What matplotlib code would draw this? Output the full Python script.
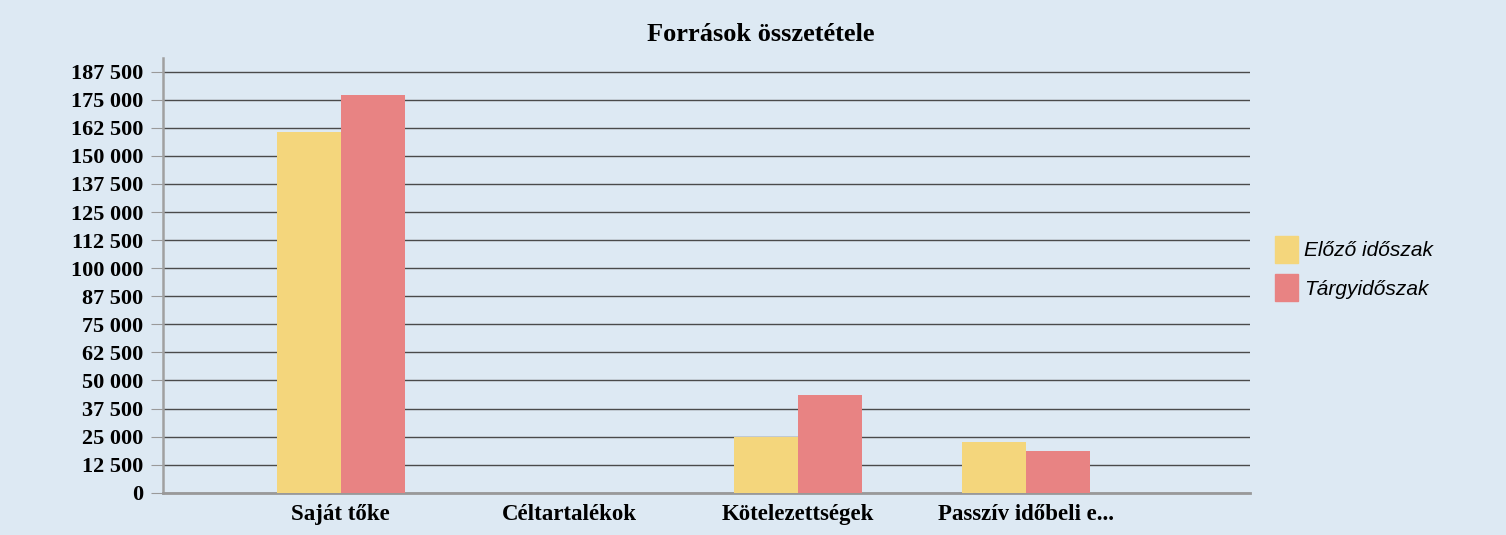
import matplotlib.pyplot as plt
import numpy as np
from matplotlib.patches import Patch

categories = ["Saját tőke", "Céltartalékok", "Kötelezettségek", "Passzív időbeli e..."]
elozo = [160500, 0, 25000, 22500]
targy = [177000, 0, 43500, 18700]
series_names = ["Előző időszak", "Tárgyidőszak"]
yticks = np.arange(0, 187501, 12500)

bg = "#dde9f3"
c_yellow = "#f4d67c"
c_red = "#e88383"

fig = plt.figure(figsize=(15.06, 5.35), dpi=100, facecolor=bg)
ax = fig.add_axes([0.108, 0.079, 0.722, 0.813], facecolor=bg)

x = np.arange(len(categories))
w = 0.28
ax.bar(x - w / 2, elozo, w, color=c_yellow, zorder=3)
ax.bar(x + w / 2, targy, w, color=c_red, zorder=3)

ax.set_xlim(-0.78, 3.98)
ax.set_ylim(0, 193700)
ax.set_yticks(yticks)
ax.set_yticklabels([f"{v:,}".replace(",", " ") for v in yticks],
                   fontfamily="Liberation Serif", fontweight="bold", fontsize=16)
ax.set_xticks(x)
ax.set_xticklabels(categories, fontfamily="Liberation Serif", fontweight="bold", fontsize=16.5)
ax.tick_params(axis="x", length=0, pad=8)
ax.tick_params(axis="y", length=9, color="#999999", pad=5)
ax.grid(axis="y", color="#4a4a4a", linewidth=1, zorder=0)

for s in ["top", "right"]:
    ax.spines[s].set_visible(False)
ax.spines["left"].set_color("#a0a0a0")
ax.spines["left"].set_linewidth(1.8)
ax.spines["bottom"].set_color("#999999")
ax.spines["bottom"].set_linewidth(2)

fig.text(0.505, 0.936, "Források összetétele", ha="center", va="center",
         fontfamily="Liberation Serif", fontweight="bold", fontsize=19)

handles = [Patch(color=c_yellow), Patch(color=c_red)]
fig.legend(handles, series_names, loc="center left", bbox_to_anchor=(0.834, 0.498),
           frameon=False, handlelength=1.1, handleheight=1.6, handletextpad=0.3,
           labelspacing=0.55, prop={"family": "Liberation Sans", "style": "italic", "size": 15})

fig.savefig("out.png", dpi=100, facecolor=bg)
